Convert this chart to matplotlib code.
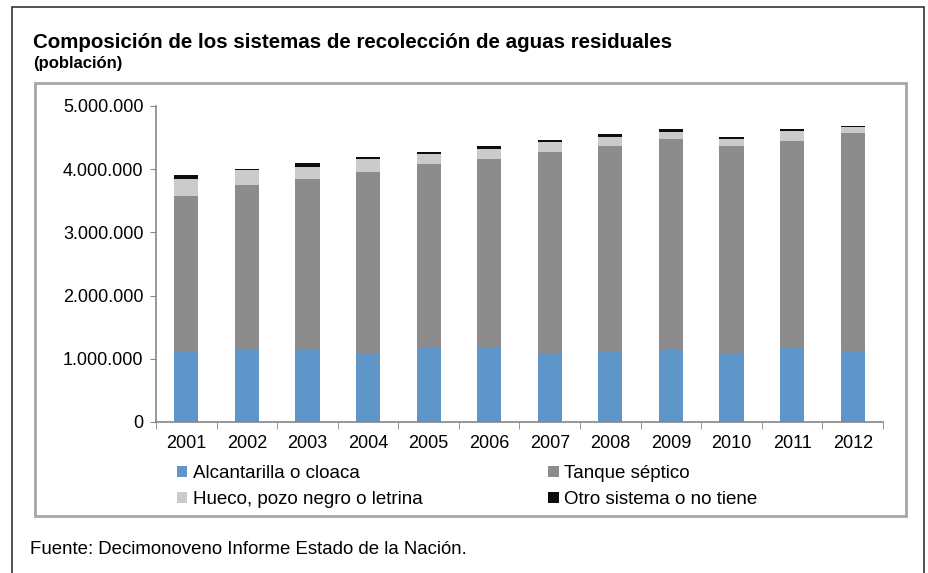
import numpy as np
import matplotlib.pyplot as plt
from matplotlib.patches import Rectangle
from matplotlib.ticker import FuncFormatter

plt.rcParams['font.family'] = ['Liberation Sans', 'DejaVu Sans']

# datos (población)
anios = ['2001', '2002', '2003', '2004', '2005', '2006',
         '2007', '2008', '2009', '2010', '2011', '2012']
alcantarilla = [1100000, 1155000, 1155000, 1097000, 1187000, 1187000,
                1097000, 1123000, 1155000, 1070000, 1187000, 1123000]
tanque = [2480000, 2590000, 2685000, 2853000, 2893000, 2973000,
          3183000, 3247000, 3325000, 3300000, 3263000, 3447000]
hueco = [260000, 235000, 200000, 210000, 165000, 160000,
         150000, 140000, 110000, 110000, 150000, 90000]
otro = [65000, 30000, 60000, 30000, 35000, 40000,
        30000, 40000, 40000, 30000, 30000, 30000]

series = [
    ('Alcantarilla o cloaca', alcantarilla, '#5f95c9'),
    ('Tanque séptico', tanque, '#8c8c8c'),
    ('Hueco, pozo negro o letrina', hueco, '#cbcbcb'),
    ('Otro sistema o no tiene', otro, '#0d0d0d'),
]

fig = plt.figure(figsize=(9.29, 5.73), dpi=100)
W, H = 929, 573

# marco exterior y marco interior del gráfico
fig.add_artist(Rectangle((12 / W, -0.01), (924 - 12) / W, 1 - 7 / H + 0.01,
                         transform=fig.transFigure, fill=False,
                         edgecolor='#333333', linewidth=1.2))
fig.add_artist(Rectangle((35 / W, 1 - 516 / H), (906 - 35) / W, (516 - 83) / H,
                         transform=fig.transFigure, fill=False,
                         edgecolor='#a6a6a6', linewidth=2))

ax = fig.add_axes([156 / W, 1 - 422 / H, (883 - 156) / W, (422 - 106) / H])

x = np.arange(len(anios))
base = np.zeros(len(anios))
handles = {}
for nombre, vals, color in series:
    b = ax.bar(x, vals, width=0.4, bottom=base, color=color, label=nombre)
    handles[nombre] = b
    base = base + np.array(vals)

ax.set_xlim(-0.5, len(anios) - 0.5)
ax.set_ylim(0, 5000000)
ax.set_yticks(np.arange(0, 5000001, 1000000))
ax.yaxis.set_major_formatter(FuncFormatter(lambda v, p: f'{int(v):,}'.replace(',', '.')))
ax.set_xticks(x)
ax.set_xticklabels(anios)
ax.set_xticks(np.arange(-0.5, len(anios), 1), minor=True)
ax.tick_params(axis='x', which='major', length=0, labelsize=13, pad=9)
ax.tick_params(axis='x', which='minor', length=5, color='#868686', direction='out')
ax.tick_params(axis='y', length=4, color='#868686', labelsize=13, pad=5)
for s in ['top', 'right']:
    ax.spines[s].set_visible(False)
for s in ['left', 'bottom']:
    ax.spines[s].set_color('#868686')
    ax.spines[s].set_linewidth(1.2)

orden = ['Alcantarilla o cloaca', 'Hueco, pozo negro o letrina',
         'Tanque séptico', 'Otro sistema o no tiene']
fig.legend([handles[n] for n in orden], orden, ncol=2, frameon=False,
           loc='upper left', bbox_to_anchor=(160 / W, 1 - 448 / H),
           fontsize=13.5, handlelength=0.55, handleheight=0.55, handletextpad=0.3,
           columnspacing=6.7, labelspacing=0.5)

fig.text(33 / W, 1 - 42 / H, 'Composición de los sistemas de recolección de aguas residuales',
         fontsize=14.8, fontweight='bold', va='center')
fig.text(33 / W, 1 - 63 / H, '(población)', fontsize=12, fontweight='bold', va='center')
fig.text(30 / W, 1 - 550 / H, 'Fuente: Decimonoveno Informe Estado de la Nación.',
         fontsize=13.4, va='center')

fig.savefig('out.png', dpi=100)
